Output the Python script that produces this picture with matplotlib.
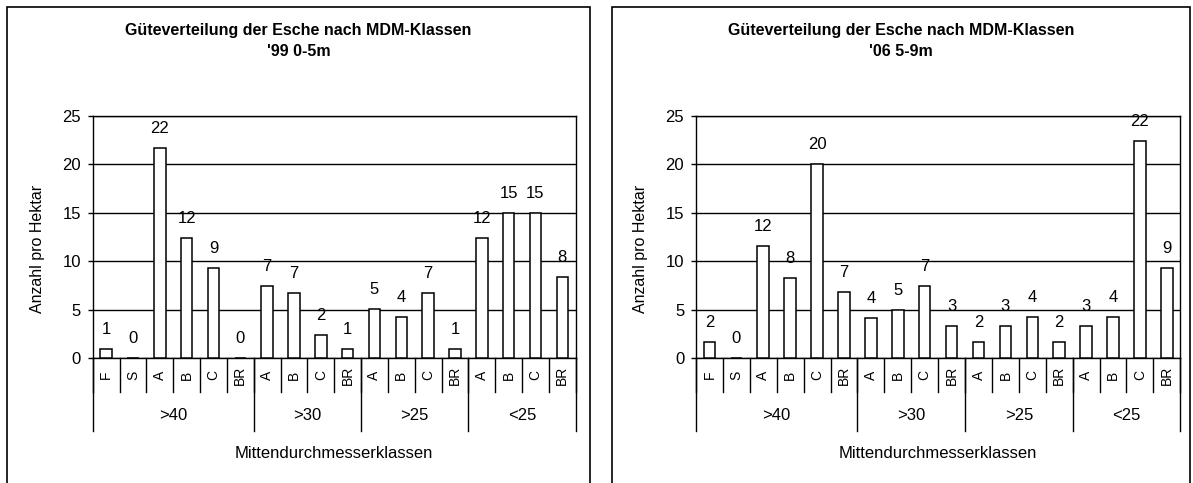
import matplotlib
matplotlib.use('Agg')
import matplotlib.pyplot as plt
from matplotlib.patches import Rectangle
from matplotlib.transforms import blended_transform_factory

# data
groups = ['>40', '>30', '>25', '<25']
group_sizes = [6, 4, 4, 4]
categories = ['F', 'S', 'A', 'B', 'C', 'BR',
              'A', 'B', 'C', 'BR',
              'A', 'B', 'C', 'BR',
              'A', 'B', 'C', 'BR']
values_99 = [0.9, 0, 21.7, 12.4, 9.3, 0,
             7.4, 6.7, 2.4, 0.9,
             5.1, 4.2, 6.7, 0.9,
             12.4, 15.0, 15.0, 8.4]
values_06 = [1.7, 0, 11.6, 8.3, 20.0, 6.8,
             4.1, 5.0, 7.4, 3.3,
             1.7, 3.3, 4.2, 1.7,
             3.3, 4.2, 22.4, 9.3]
titles = ["Güteverteilung der Esche nach MDM-Klassen\n'99 0-5m",
          "Güteverteilung der Esche nach MDM-Klassen\n'06 5-9m"]
yticks = [0, 5, 10, 15, 20, 25]

W, H = 1193, 483
NARROW = ['Liberation Sans Narrow', 'Liberation Sans', 'DejaVu Sans']
plt.rcParams['font.family'] = ['Liberation Sans', 'DejaVu Sans']


def px_box(x0, y0, x1, y1):
    # pixel box (top-left origin) -> figure fraction
    return [x0 / W, 1 - y1 / H, (x1 - x0) / W, (y1 - y0) / H]


def draw_chart(fig, ax_box, frame_box, title, values):
    fx0, fy0, fx1, fy1 = frame_box
    fig.patches.append(Rectangle((fx0 / W, 1 - fy1 / H), (fx1 - fx0) / W, (fy1 - fy0) / H,
                                 transform=fig.transFigure, fill=False,
                                 edgecolor='black', linewidth=1.2))
    fig.text((fx0 + fx1) / 2 / W, 1 - 41 / H, title, ha='center', va='center',
             fontsize=11.5, fontweight='bold', linespacing=1.45)

    ax = fig.add_axes(px_box(*ax_box))
    n = len(values)
    x = list(range(n))
    ax.bar(x, values, width=0.43, color='white', edgecolor='black', linewidth=1.1, zorder=3)
    for xi, v in zip(x, values):
        ax.text(xi, v + 2.0, f'{v:.0f}', ha='center', va='center',
                fontsize=12, family=NARROW, zorder=4)

    ax.set_xlim(-0.5, n - 0.5)
    ax.set_ylim(0, 25)
    ax.set_yticks(yticks)
    ax.tick_params(axis='y', direction='out', length=3.5, width=1, pad=5, labelsize=12)
    for lab in ax.get_yticklabels():
        lab.set_family(NARROW)
    ax.set_xticks([])
    ax.grid(axis='y', color='black', linewidth=1, zorder=1)
    for s in ax.spines.values():
        s.set_color('black')
        s.set_linewidth(1)

    ax_h = ax_box[3] - ax_box[1]
    row1 = -34 / ax_h
    row2 = -73 / ax_h
    tr = blended_transform_factory(ax.transData, ax.transAxes)

    # category row
    for xi, c in zip(x, categories):
        ax.text(xi, -17 / ax_h, c, transform=tr, rotation=90, ha='center', va='center',
                fontsize=10)
    for b in range(n + 1):
        ax.plot([b - 0.5, b - 0.5], [0, row1], transform=tr, color='black',
                linewidth=1, clip_on=False)

    # group row
    start = 0
    bounds = [0]
    for g, size in zip(groups, group_sizes):
        mid = start + size / 2 - 0.5
        ax.text(mid, -58 / ax_h, g, transform=tr, ha='center', va='center',
                fontsize=12, family=NARROW)
        start += size
        bounds.append(start)
    for b in bounds:
        ax.plot([b - 0.5, b - 0.5], [0, row2], transform=tr, color='black',
                linewidth=1, clip_on=False)

    ax.text(0.5, -95 / ax_h, 'Mittendurchmesserklassen', transform=ax.transAxes,
            ha='center', va='center', fontsize=12, family=NARROW)
    ax.set_ylabel('Anzahl pro Hektar', fontsize=11.5, family=NARROW)
    ax.yaxis.set_label_coords(-48 / (ax_box[2] - ax_box[0]), 0.45)
    return ax


fig = plt.figure(figsize=(W / 100, H / 100), dpi=100)
draw_chart(fig, (92.7, 115.7, 575.7, 358), (7, 7, 590, 495), titles[0], values_99)
draw_chart(fig, (696, 115.7, 1180.3, 358), (612, 7, 1190, 495), titles[1], values_06)

plt.savefig('out.png', dpi=100)
